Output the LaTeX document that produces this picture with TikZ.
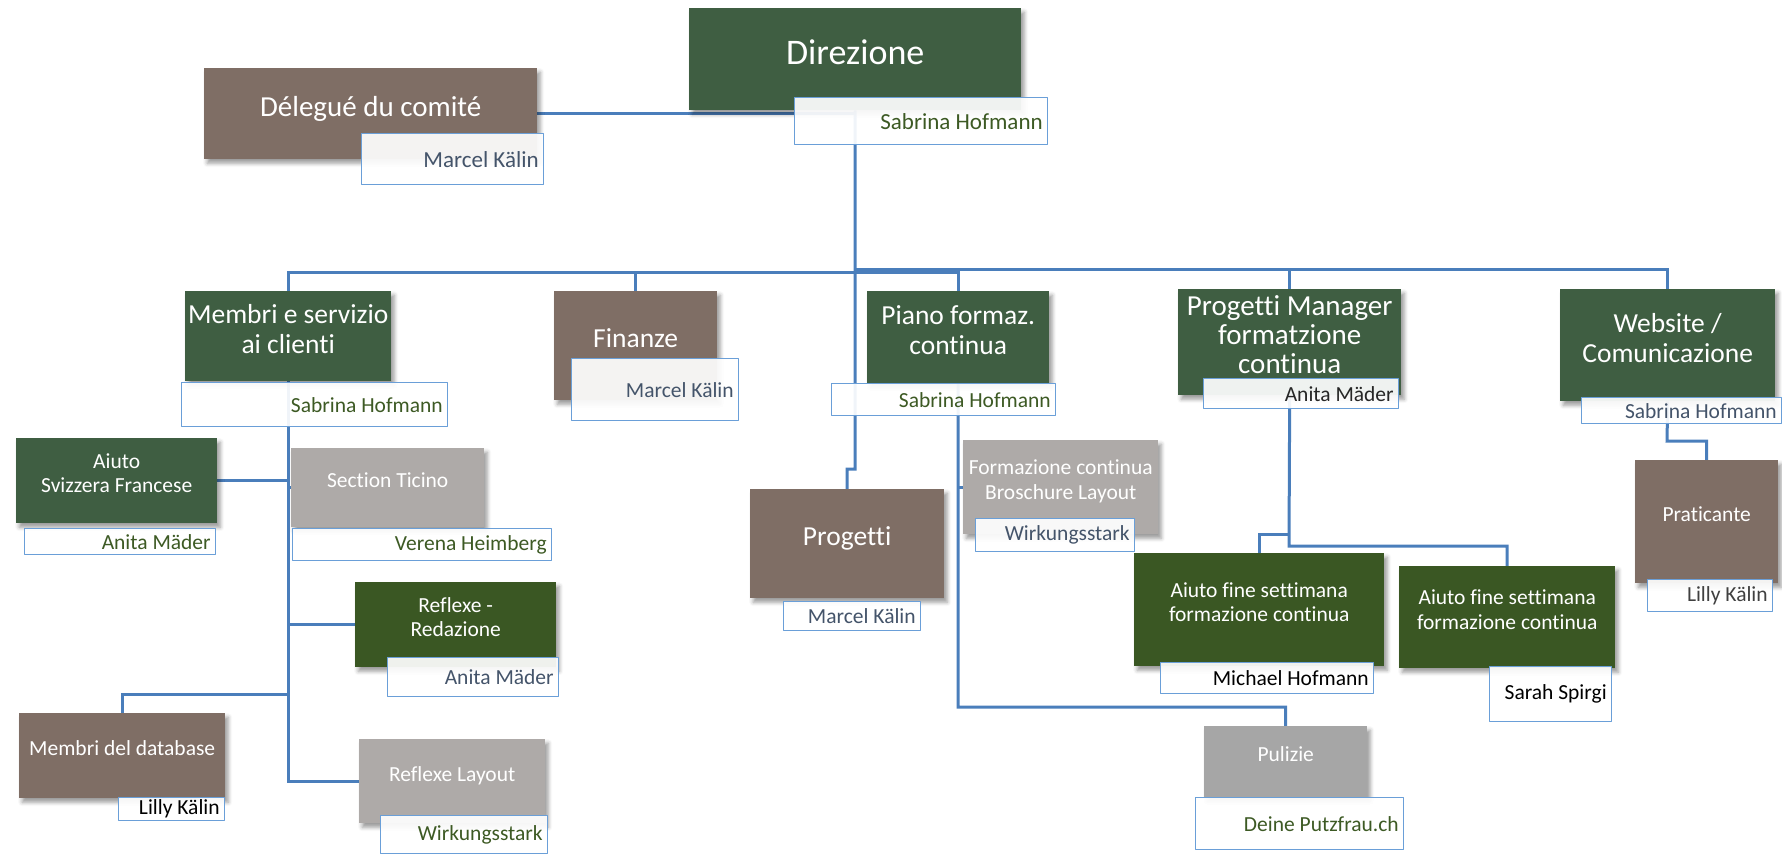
\documentclass[tikz,border=0pt]{standalone}
\usepackage{fontspec}
\setmainfont{Carlito}[Ligatures=NoCommon]
\usetikzlibrary{backgrounds,shadows.blur}

\definecolor{dirgreen}{HTML}{3F5E42}
\definecolor{olive}{HTML}{3A5723}
\definecolor{taupe}{HTML}{7F6E65}
\definecolor{stone}{HTML}{AEAAA8}
\definecolor{ash}{HTML}{A6A6A6}
\definecolor{wire}{HTML}{4A7EBB}
\definecolor{frame}{HTML}{6A9FD8}
\definecolor{namegreen}{HTML}{3D5A24}
\definecolor{slate}{HTML}{44546A}

\newcommand\fsz[2]{\fontsize{#1}{#2}\selectfont}

\begin{document}
\begin{tikzpicture}[x=1pt,y=-1pt,line join=round,
	unit/.style={anchor=north west,inner sep=2pt,align=center,text=white,text depth=15pt,
		blur shadow={shadow xshift=3pt,shadow yshift=-4pt,shadow blur radius=4pt,shadow opacity=40}},
	who/.style={anchor=north west,draw=frame,line width=1.4pt,fill=white,fill opacity=.92,
		text opacity=1,inner xsep=5pt,inner ysep=0pt,align=flush right,font=\fsz{21.5}{25}},
	big/.style={font=\fsz{27.5}{30}},
	small/.style={font=\fsz{21.5}{24.5}},
	link/.style={draw=wire,line width=3pt}]
	\useasboundingbox (0,0) rectangle (1782,854);

	% top
	\node[unit,fill=dirgreen,minimum width=332pt,minimum height=102pt,font=\fsz{36}{40}] (dir) at (689,8) {Direzione};
	\node[who,text width=243pt,minimum height=47pt,text=namegreen,font=\fsz{23}{26}] (dirn) at (794,97) {Sabrina Hofmann};
	\node[unit,fill=taupe,minimum width=333pt,minimum height=91pt,font=\fsz{29}{32}] (del) at (204,68) {Délegué du comité};
	\node[who,text width=172pt,minimum height=51pt,text=slate,font=\fsz{23}{26}] (deln) at (361,133) {Marcel Kälin};

	% second level
	\node[unit,big,fill=dirgreen,minimum width=206pt,minimum height=90pt] (mem) at (185,291) {Membri e servizio\\ai clienti};
	\node[who,text width=256pt,minimum height=44pt,text=namegreen] (memn) at (181,382) {Sabrina Hofmann};
	\node[unit,big,fill=taupe,minimum width=163pt,minimum height=109pt] (fin) at (554,291) {Finanze};
	\node[who,text width=157pt,minimum height=62pt,text=slate] (finn) at (571,358) {Marcel Kälin};
	\node[unit,big,fill=dirgreen,minimum width=182pt,minimum height=92pt] (pia) at (867,291) {Piano formaz.\\continua};
	\node[who,text width=214pt,minimum height=32pt,text=namegreen] (pian) at (831,383) {Sabrina Hofmann};
	\node[unit,fill=dirgreen,minimum width=223pt,minimum height=106pt,font=\fsz{29}{29}] (pm) at (1178,289) {Progetti Manager\\formatzione\\continua};
	\node[who,text width=185pt,minimum height=30pt,text=black!85] (pmn) at (1203,378) {Anita Mäder};
	\node[unit,big,fill=dirgreen,minimum width=215pt,minimum height=112pt] (web) at (1560,289) {Website /\\Comunicazione};
	\node[who,text width=190pt,minimum height=26pt,text=slate] (webn) at (1581,397) {Sabrina Hofmann};
	\node[unit,big,fill=taupe,minimum width=194pt,minimum height=109pt] (pro) at (750,489) {Progetti};
	\node[who,text width=127pt,minimum height=29pt,text=slate] (pron) at (783,601) {Marcel Kälin};

	% membri
	\node[unit,small,fill=dirgreen,minimum width=201pt,minimum height=85pt] (aiu) at (16,438) {Aiuto\\Svizzera Francese};
	\node[who,text width=181pt,minimum height=26pt,text=namegreen] (aiun) at (24,528) {Anita Mäder};
	\node[unit,small,fill=stone,minimum width=193pt,minimum height=79pt] (tic) at (291,448) {Section Ticino};
	\node[who,text width=249pt,minimum height=32pt,text=namegreen] (ticn) at (292,528) {Verena Heimberg};
	\node[unit,small,fill=olive,minimum width=201pt,minimum height=85pt] (red) at (355,582) {Reflexe -\\Redazione};
	\node[who,text width=161pt,minimum height=39pt,text=slate] (redn) at (387,657) {Anita Mäder};
	\node[unit,small,fill=taupe,minimum width=206pt,minimum height=85pt] (db) at (19,713) {Membri del database};
	\node[who,text width=96pt,minimum height=23pt,text=black] (dbn) at (118,797) {Lilly Kälin};
	\node[unit,small,fill=stone,minimum width=186pt,minimum height=84pt] (lay) at (359,739) {Reflexe Layout};
	\node[who,text width=157pt,minimum height=38pt,text=namegreen] (layn) at (380,815) {Wirkungsstark};

	% piano, manager, website
	\node[unit,small,fill=stone,minimum width=195pt,minimum height=94pt] (bro) at (963,440) {Formazione continua\\Broschure Layout};
	\node[who,text width=149pt,minimum height=33pt,text=slate] (bron) at (975,518) {Wirkungsstark};
	\node[unit,small,fill=ash,minimum width=163pt,minimum height=71pt] (pul) at (1204,726) {Pulizie};
	\node[who,text width=198pt,minimum height=52pt,text=namegreen] (puln) at (1195,797) {Deine Putzfrau.ch};
	\node[unit,small,fill=olive,minimum width=250pt,minimum height=113pt] (af1) at (1134,553) {Aiuto fine settimana\\formazione continua};
	\node[who,text width=203pt,minimum height=31pt,text=black] (af1n) at (1160,662) {Michael Hofmann};
	\node[unit,small,fill=olive,minimum width=216pt,minimum height=102pt] (af2) at (1399,566) {Aiuto fine settimana\\formazione continua};
	\node[who,text width=112pt,minimum height=55pt,text=black] (af2n) at (1489,666) {Sarah Spirgi};
	\node[unit,small,fill=taupe,minimum width=143pt,minimum height=123pt] (pra) at (1635,460) {Praticante};
	\node[who,text width=115pt,minimum height=32pt,text=black!75] (pran) at (1647,579) {Lilly Kälin};

	\begin{scope}[on background layer]
		\coordinate (busL) at (855,272);
		\coordinate (busR) at (855,269);
		\coordinate (jog) at (855,469);
		\coordinate (dbjoin) at (288,694);
		\coordinate (pujoin) at (958,707);
		\coordinate (af1join) at (1289,534);
		\coordinate (af2join) at (1289,546);
		\coordinate (prajoin) at (1667,441);
		\draw[link] (dir.south) -- (jog) -| (pro.north);
		\draw[link] (del.east) -- (del.east -| dir.south);
		\draw[link] (mem.north) |- (busL) -| (pia.north);
		\draw[link] (fin.north) -- (fin.north |- busL);
		\draw[link] (busR) -| (web.north);
		\draw[link] (pm.north) -- (pm.north |- busR);
		\draw[link] (mem.south) -- (mem.south |- lay.west) -- (lay.west);
		\draw[link] (aiu.east) -- (aiu.east -| mem.south);
		\draw[link] (tic.west) -- (tic.west -| mem.south);
		\draw[link] (red.west) -- (red.west -| mem.south);
		\draw[link] (db.north) |- (dbjoin);
		\draw[link] (pia.south) -- (pujoin) -| (pul.north);
		\draw[link] (bro.west) -- (bro.west -| pia.south);
		\draw[link] (pm.south) -- (af2join) -| (af2.north);
		\draw[link] (af1join) -| (af1.north);
		\draw[link] (web.south) -- (prajoin) -| (pra.north);
	\end{scope}
\end{tikzpicture}
\end{document}
